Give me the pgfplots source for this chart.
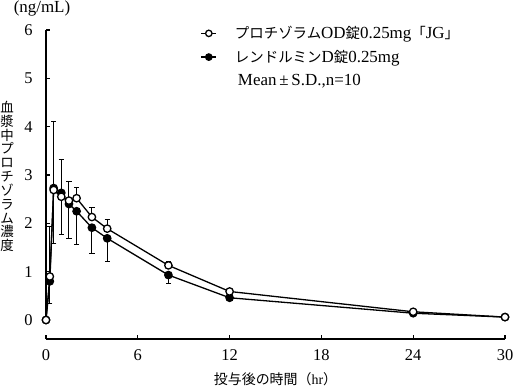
\documentclass[border=0pt]{standalone}
\usepackage{fontspec}
\setmainfont{Liberation Serif}
\newfontfamily\cjk{Noto Sans CJK JP}
\usepackage{pgfplots}
\usepackage{pgfplotstable}
\pgfplotsset{compat=1.18}

\pgfplotstableread{
t m sd
0 0 0
0.25 0.90 1.03
0.5 2.69 1.41
1 2.55 0.78
1.5 2.47 0.39
2 2.52 0.23
3 2.13 0.19
4 1.89 0.19
8 1.13 0.08
12 0.59 0.05
24 0.17 0.03
30 0.06 0.02
}\testdata

\pgfplotstableread{
t m sd
0 0 0
0.25 0.80 0.45
0.5 2.73 1.14
1 2.63 0.86
1.5 2.40 0.72
2 2.25 0.68
3 1.91 0.54
4 1.69 0.49
8 0.93 0.18
12 0.46 0.05
24 0.14 0.03
30 0.06 0.02
}\refdata

\newcommand{\jl}[1]{{\cjk\fontsize{14.5}{16}\selectfont #1}}

\begin{document}
\begin{tikzpicture}[x=1bp,y=1bp]
\path[use as bounding box] (0,0) rectangle (515,387);
\begin{axis}[
  at={(46bp,48bp)}, anchor=south west,
  scale only axis, width=459bp, height=309bp,
  xmin=0, xmax=30, ymin=-0.3934, ymax=6,
  axis x line*=bottom, axis y line*=left,
  y axis line style={draw=none},
  x axis line style={line width=1.2bp},
  tick align=inside,
  xtick={0,6,12,18,24,30}, ytick={0,1,2,3,4,5,6},
  major tick length=4bp,
  tick style={line width=1.2bp, black},
  /pgf/number format/assume math mode=true,
  ticklabel style={font=\fontsize{16.5}{16.5}\selectfont},
  yticklabel style={xshift=-10bp},
  xticklabel style={yshift=-7bp},
  xlabel={{\cjk 投与後の時間（}hr{\cjk ）}},
  xlabel style={at={(axis description cs:0.5,0)}, anchor=center, yshift=-40bp, font=\fontsize{14}{14}\selectfont},
  ylabel={血\\漿\\中\\プ\\ロ\\チ\\ゾ\\ラ\\ム\\濃\\度},
  ylabel style={rotate=-90, at={(axis description cs:0,0.526)}, anchor=center, xshift=-39bp, align=center, font=\cjk\fontsize{13.5}{13.9}\selectfont},
  clip=false,
  legend cell align=left,
  legend style={at={(axis description cs:0.33,1.025)}, anchor=north west, draw=none, fill=none,
    font=\fontsize{17}{17}\selectfont, row sep=6bp,
    /tikz/every odd column/.append style={column sep=16bp}},
  legend image code/.code={\draw[mark repeat=2, mark phase=2, #1] plot coordinates {(0bp,0bp) (7.5bp,0bp) (15bp,0bp)};},
]
\addlegendimage{black, line width=1.3bp, mark=*, mark options={fill=white, mark size=3.2bp}}
\addlegendentry{\jl{プロチゾラム}OD\jl{錠}0.25mg\jl{「}JG\jl{」}}
\addlegendimage{black, line width=1.3bp, mark=*, mark options={fill=black, mark size=3.2bp}}
\addlegendentry{\jl{レンドルミン}D\jl{錠}0.25mg}
\addlegendimage{empty legend}
\addlegendentry{\hspace{3bp}Mean\,±\,S.D.,n=10}

\draw[line width=1.2bp] (axis cs:0,0) -- (axis cs:0,6);

\addplot[black, line width=1.3bp, mark=*, mark size=3.7bp, mark options={fill=black},
  error bars/.cd, y dir=minus, y explicit,
  error bar style={line width=1bp},
  error mark options={rotate=90, mark size=2.6bp, line width=1bp}]
  table[x=t, y=m, y error=sd] {\refdata};
\addplot[black, line width=1.3bp, mark=*, mark size=3.7bp, mark options={fill=white},
  error bars/.cd, y dir=plus, y explicit,
  error bar style={line width=1bp},
  error mark options={rotate=90, mark size=2.6bp, line width=1bp}]
  table[x=t, y=m, y error=sd] {\testdata};
\end{axis}
\node[font=\fontsize{17}{17}\selectfont] at (42,379) {(ng/mL)};
\end{tikzpicture}
\end{document}
